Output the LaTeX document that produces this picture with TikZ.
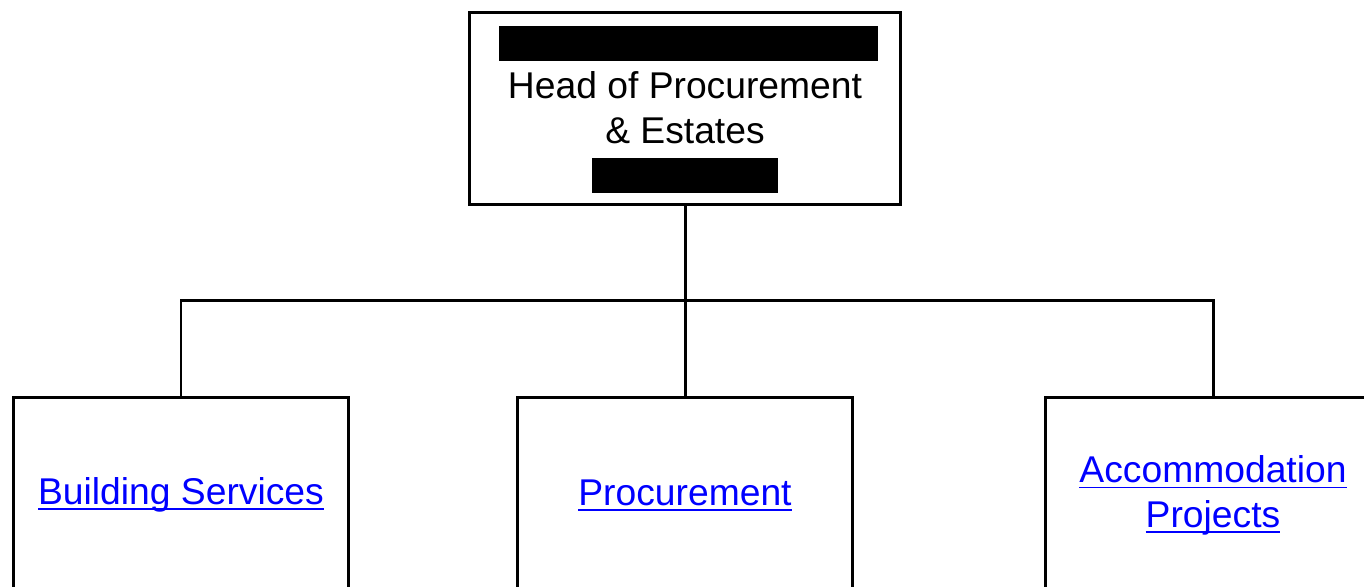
\documentclass[tikz,border=0pt]{standalone}
\usepackage{fontspec}
\setmainfont{Liberation Sans}
\usetikzlibrary{positioning}
\definecolor{linkblue}{rgb}{0.0, 0.0, 1.0}
\newcommand{\ulink}[1]{\setbox0\hbox{#1}\rlap{\rule[-3.2pt]{\wd0}{1.1pt}}\box0}

\begin{document}
\begin{tikzpicture}[x=0.02cm,y=-0.02cm,line width=1.7pt,
  head node/.style={rectangle,draw,minimum width=8.64cm,minimum height=3.86cm},
  unit node/.style={rectangle,draw,minimum width=6.72cm,minimum height=3.86cm},
  label text/.style={align=center,font=\fontsize{21.2}{25.4}\selectfont},
  link text/.style={label text,text=linkblue},
  redact/.style={rectangle,fill=black,inner sep=0pt,minimum height=0.7cm}]
  \useasboundingbox (0,0) rectangle (1364,586);
  \clip (0,0) rectangle (1364,586);

  \node[head node] (head) at (685,108.5) {};
  \node[redact,minimum width=7.58cm] (bar1) at (688.5,43.5) {};
  \node[redact,minimum width=3.72cm] (bar2) at (685,175) {};
  \node[label text] (title) at (685,107.5) {Head of Procurement\\\& Estates};

  \node[unit node] (bs) at (181,493.5) {};
  \node[unit node] (pr) at (685,493.5) {};
  \node[unit node] (ap) at (1213,493.5) {};
  \node[link text] at (181,495) {\ulink{Building Services}};
  \node[link text] at (685,495) {\ulink{Procurement}};
  \node[link text] at (1213,495.5) {\ulink{Accommodation}\\\ulink{Projects}};

  \coordinate (bus) at (685,300);
  \draw (head.south) -- (pr.north);
  \draw (bs.north) |- (bus) -| (ap.north);
\end{tikzpicture}
\end{document}
